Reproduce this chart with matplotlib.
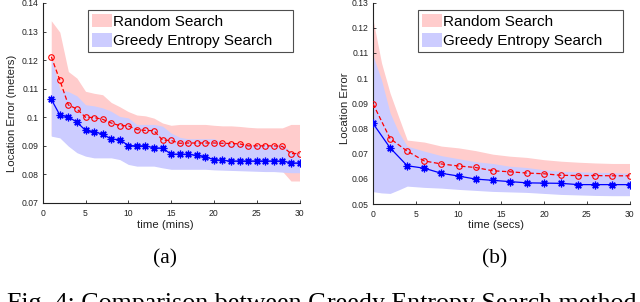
import matplotlib
matplotlib.use("Agg")
import matplotlib.pyplot as plt
from matplotlib.ticker import FuncFormatter

# ---------------- data: panel (a) ----------------
x_a = list(range(1, 31))
random_a = [0.1212, 0.1130, 0.1043, 0.1029, 0.1000, 0.0999, 0.0993, 0.0980, 0.0971, 0.0970,
            0.0957, 0.0954, 0.0953, 0.0920, 0.0919, 0.0909, 0.0910, 0.0910, 0.0910, 0.0910,
            0.0909, 0.0908, 0.0907, 0.0900, 0.0900, 0.0900, 0.0900, 0.0898, 0.0873, 0.0873]
greedy_a = [0.1063, 0.1008, 0.1001, 0.0983, 0.0954, 0.0948, 0.0942, 0.0923, 0.0922, 0.0901,
            0.0900, 0.0900, 0.0893, 0.0892, 0.0871, 0.0871, 0.0870, 0.0867, 0.0861, 0.0852,
            0.0849, 0.0847, 0.0847, 0.0847, 0.0847, 0.0847, 0.0847, 0.0847, 0.0840, 0.0840]
random_up_a = [0.1338, 0.1298, 0.1160, 0.1137, 0.1091, 0.1084, 0.1079, 0.1052, 0.1037, 0.1020,
               0.1008, 0.1005, 0.0997, 0.0980, 0.0972, 0.0975, 0.0975, 0.0975, 0.0975, 0.0972,
               0.0970, 0.0970, 0.0968, 0.0965, 0.0963, 0.0963, 0.0963, 0.0963, 0.0975, 0.0975]
random_lo_a = [0.0937, 0.0931, 0.0902, 0.0879, 0.0867, 0.0861, 0.0861, 0.0861, 0.0855, 0.0838,
               0.0832, 0.0832, 0.0832, 0.0826, 0.0821, 0.0821, 0.0821, 0.0821, 0.0821, 0.0819,
               0.0818, 0.0817, 0.0816, 0.0815, 0.0814, 0.0813, 0.0813, 0.0811, 0.0777, 0.0777]
greedy_up_a = [0.1213, 0.1097, 0.1090, 0.1075, 0.1044, 0.1040, 0.1033, 0.1021, 0.1003, 0.0998,
               0.0975, 0.0975, 0.0975, 0.0969, 0.0945, 0.0930, 0.0925, 0.0925, 0.0925, 0.0925,
               0.0915, 0.0912, 0.0910, 0.0905, 0.0905, 0.0905, 0.0905, 0.0905, 0.0880, 0.0875]
greedy_lo_a = [0.0934, 0.0928, 0.0899, 0.0876, 0.0864, 0.0858, 0.0858, 0.0858, 0.0852, 0.0835,
               0.0829, 0.0829, 0.0829, 0.0823, 0.0818, 0.0818, 0.0818, 0.0818, 0.0818, 0.0816,
               0.0815, 0.0814, 0.0813, 0.0812, 0.0811, 0.0810, 0.0810, 0.0808, 0.0806, 0.0806]

# ---------------- data: panel (b) ----------------
x_b = [0, 2, 4, 6, 8, 10, 12, 14, 16, 18, 20, 22, 24, 26, 28, 30]
random_b = [0.0898, 0.0760, 0.0710, 0.0671, 0.0659, 0.0651, 0.0645, 0.0632, 0.0628, 0.0623,
            0.0620, 0.0614, 0.0613, 0.0613, 0.0612, 0.0612]
greedy_b = [0.0820, 0.0723, 0.0652, 0.0642, 0.0622, 0.0611, 0.0599, 0.0594, 0.0589, 0.0584,
            0.0583, 0.0582, 0.0577, 0.0577, 0.0577, 0.0577]
band_x_b = [0, 1, 2, 3, 4, 6, 8, 10, 12, 14, 16, 18, 20, 22, 24, 26, 28, 30]
random_up_b = [0.1233, 0.1060, 0.0940, 0.0846, 0.0754, 0.0746, 0.0730, 0.0723, 0.0712, 0.0698,
               0.0690, 0.0685, 0.0676, 0.0670, 0.0666, 0.0663, 0.0661, 0.0661]
random_lo_b = [0.0560, 0.0556, 0.0554, 0.0565, 0.0578, 0.0574, 0.0570, 0.0566, 0.0562, 0.0558,
               0.0556, 0.0554, 0.0550, 0.0546, 0.0544, 0.0542, 0.0541, 0.0541]
greedy_up_b = [0.1090, 0.0992, 0.0862, 0.0785, 0.0730, 0.0710, 0.0692, 0.0680, 0.0668, 0.0661,
               0.0650, 0.0645, 0.0636, 0.0630, 0.0628, 0.0626, 0.0625, 0.0622]
greedy_lo_b = [0.0549, 0.0544, 0.0542, 0.0556, 0.0571, 0.0566, 0.0563, 0.0558, 0.0554, 0.0550,
               0.0548, 0.0546, 0.0542, 0.0538, 0.0536, 0.0534, 0.0533, 0.0533]

labels = ["Random Search", "Greedy Entropy Search"]
xticks = [0, 5, 10, 15, 20, 25, 30]
yticks_a = [0.07, 0.08, 0.09, 0.10, 0.11, 0.12, 0.13, 0.14]
yticks_b = [0.05, 0.06, 0.07, 0.08, 0.09, 0.10, 0.11, 0.12, 0.13]

PINK = "#ffcccc"
LBLUE = "#ccccff"
SANS = "Liberation Sans"
SERIF = "Liberation Serif"

W, H = 640, 302
fig = plt.figure(figsize=(W / 100, H / 100), dpi=100)


def px_axes(x0, x1, ytop, ybot):
    return fig.add_axes([x0 / W, 1 - ybot / H, (x1 - x0) / W, (ybot - ytop) / H])


def style(ax, yticks, ylim):
    ax.set_xlim(0, 30)
    ax.set_ylim(*ylim)
    ax.set_xticks(xticks)
    ax.set_yticks(yticks)
    ax.yaxis.set_major_formatter(FuncFormatter(lambda v, p: "%g" % round(v, 3)))
    for s in ("top", "right"):
        ax.spines[s].set_visible(False)
    for s in ("left", "bottom"):
        ax.spines[s].set_linewidth(0.8)
        ax.spines[s].set_color("#222222")
    ax.tick_params(direction="in", length=2.5, width=0.6, labelsize=6.2,
                   colors="#222222")
    ax.tick_params(axis="x", pad=4.5)
    ax.tick_params(axis="y", pad=3.2)
    for lab in ax.get_xticklabels() + ax.get_yticklabels():
        lab.set_family(SANS)
    ax.patch.set_visible(False)


def draw(ax, xm, rmean, gmean, bx, rup, rlo, gup, glo, legend_box):
    hr = ax.fill_between(bx, rlo, rup, color=PINK, linewidth=0, zorder=1)
    hg = ax.fill_between(bx, glo, gup, color=LBLUE, linewidth=0, zorder=2)
    ax.plot(xm, rmean, color="red", linestyle=(0, (3.5, 2)), linewidth=0.9,
            marker="o", markersize=4, markerfacecolor="none",
            markeredgecolor="red", markeredgewidth=0.8, zorder=4)
    ax.plot(xm, gmean, color="blue", linestyle="-", linewidth=0.9,
            marker=(8, 2, 0), markersize=5.5, markeredgecolor="blue",
            markeredgewidth=0.9, zorder=3)
    x0, y0, x1, y1 = legend_box
    leg = fig.legend([hr, hg], labels, loc="upper left",
                     bbox_to_anchor=(x0 / W, 1 - y1 / H, (x1 - x0) / W, (y1 - y0) / H),
                     bbox_transform=fig.transFigure, mode="expand",
                     prop={"family": SANS, "size": 11}, frameon=True,
                     fancybox=False, borderpad=0.25, borderaxespad=0,
                     handlelength=1.3, handleheight=1.0, handletextpad=0.1,
                     labelspacing=0.27)
    fr = leg.get_frame()
    fr.set_edgecolor("#222222")
    fr.set_linewidth(0.8)
    return leg


# panel (a)
ax1 = px_axes(42.7, 299.5, 3, 203)
style(ax1, yticks_a, (0.07, 0.14))
draw(ax1, x_a, random_a, greedy_a, x_a, random_up_a, random_lo_a, greedy_up_a,
     greedy_lo_a, (88, 10, 293, 52))
fig.text(165 / W, 1 - 225.5 / H, "time (mins)", ha="center", va="center",
         family=SANS, fontsize=8.2, color="#222222")
fig.text(12 / W, 1 - 113 / H, "Location Error (meters)", ha="center", va="center",
         rotation=90, family=SANS, fontsize=8.2, color="#222222")

# panel (b)
ax2 = px_axes(373, 629.5, 2.6, 204)
style(ax2, yticks_b, (0.05, 0.13))
draw(ax2, x_b, random_b, greedy_b, band_x_b, random_up_b, random_lo_b,
     greedy_up_b, greedy_lo_b, (418, 10, 623, 52))
fig.text(496 / W, 1 - 225.5 / H, "time (secs)", ha="center", va="center",
         family=SANS, fontsize=8.2, color="#222222")
fig.text(345 / W, 1 - 108 / H, "Location Error", ha="center", va="center",
         rotation=90, family=SANS, fontsize=8.2, color="#222222")

# sub-captions and figure caption (caption is cut by the bottom edge, as in the source)
fig.text(165 / W, 1 - 259 / H, "(a)", ha="center", va="center", family=SERIF,
         fontsize=15.5, color="black")
fig.text(495 / W, 1 - 259 / H, "(b)", ha="center", va="center", family=SERIF,
         fontsize=15.5, color="black")
fig.text(7 / W, 1 - 310 / H, "Fig. 4: Comparison between Greedy Entropy Search method",
         ha="left", va="baseline", family=SERIF, fontsize=18.7, color="black")

fig.savefig("out.png", dpi=100)
